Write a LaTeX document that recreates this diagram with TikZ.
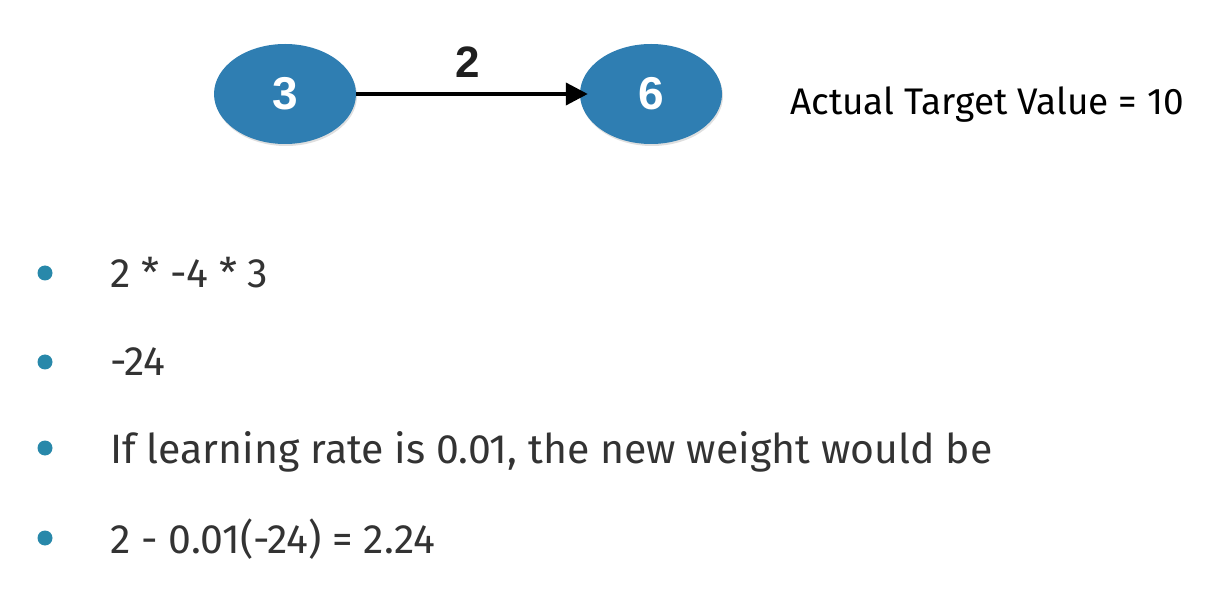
\documentclass[tikz,border=0pt]{standalone}
\usepackage{fontspec}
\setmainfont{Fira Sans}
\newfontfamily\helv{Liberation Sans}
\usetikzlibrary{arrows.meta,shadows,shapes.geometric}
\definecolor{nodeblue}{RGB}{47,126,178}
\definecolor{bulletteal}{RGB}{40,136,170}
\definecolor{txt}{RGB}{51,51,51}
\begin{document}
\begin{tikzpicture}[x=1pt,y=-1pt,
  neuron/.style={ellipse, fill=nodeblue, minimum width=142pt, minimum height=100pt, inner sep=0pt,
     text=white, font=\helv\fontsize{46}{52}\selectfont\bfseries, drop shadow={shadow xshift=1pt, shadow yshift=-2pt, opacity=0.25}},
  bul/.style={circle, fill=bulletteal, minimum size=15pt, inner sep=0pt},
  item/.style={anchor=base west, text=txt, inner sep=0pt, font=\fontsize{41}{48}\selectfont}
]
\useasboundingbox (0,0) rectangle (1210,609);
\node[neuron] (a) at (285,94) {3};
\node[neuron] (b) at (651,94) {6};
\draw[line width=4pt, shorten >=-8pt, -{Triangle[length=22pt,width=22pt]}] (a.east) -- (b.west) node[midway, above=11pt, font=\helv\fontsize{44}{50}\selectfont\bfseries, text=black!88] (w) {2};
\node[anchor=base west, inner sep=0pt, font=\fontsize{37}{44}\selectfont] (t) at (790,115) {Actual Target Value = 10};
\node[bul] (b1) at (45,273) {};
\node[bul] (b2) at (45,362) {};
\node[bul] (b3) at (45,448) {};
\node[bul] (b4) at (45,538) {};
\node[item] (i1) at (110,288) {2 * -4 * 3};
\node[item] (i2) at (110,376) {-24};
\node[item] (i3) at (110,463) {If learning rate is 0.01, the new weight would be};
\node[item] (i4) at (110,553) {2 - 0.01(-24) = 2.24};
\end{tikzpicture}
\end{document}
